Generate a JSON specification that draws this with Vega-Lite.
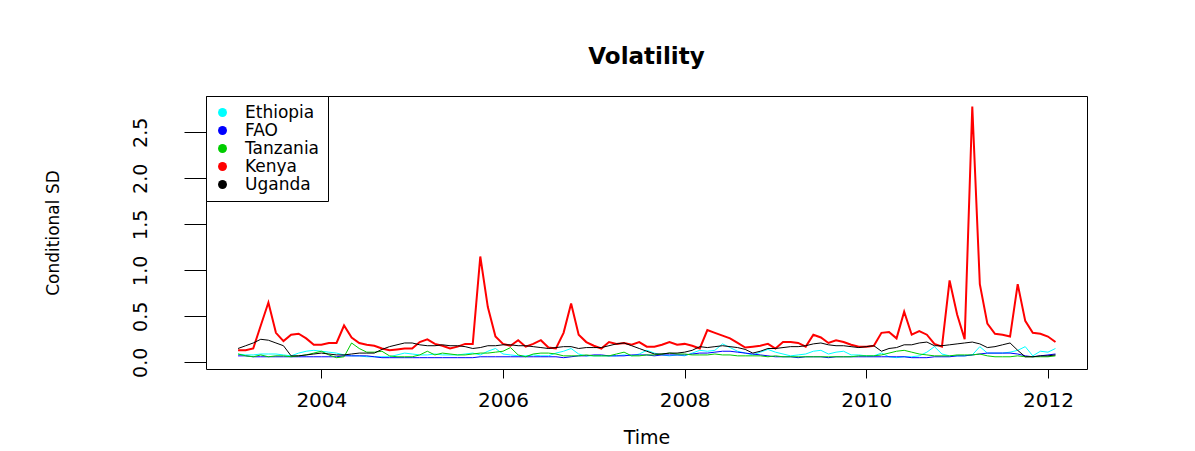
{
  "$schema": "https://vega.github.io/schema/vega-lite/v6.json",
  "autosize": {"type": "none"},
  "padding": {"left": 206, "top": 96, "right": 108, "bottom": 82},
  "width": 881,
  "height": 273,
  "background": "white",
  "title": {"text": "Volatility", "font": "DejaVu Sans", "fontSize": 23, "fontWeight": "bold", "color": "black", "offset": 27, "anchor": "middle"},
  "data": {"values": [
    {"t":2003.083,"Ethiopia":0.09,"FAO":0.07,"Tanzania":0.09,"Kenya":0.13,"Uganda":0.15},
    {"t":2003.167,"Ethiopia":0.08,"FAO":0.07,"Tanzania":0.07,"Kenya":0.13,"Uganda":0.18},
    {"t":2003.250,"Ethiopia":0.08,"FAO":0.06,"Tanzania":0.06,"Kenya":0.15,"Uganda":0.21},
    {"t":2003.333,"Ethiopia":0.09,"FAO":0.06,"Tanzania":0.08,"Kenya":0.40,"Uganda":0.25},
    {"t":2003.417,"Ethiopia":0.09,"FAO":0.06,"Tanzania":0.06,"Kenya":0.65,"Uganda":0.24},
    {"t":2003.500,"Ethiopia":0.09,"FAO":0.06,"Tanzania":0.07,"Kenya":0.32,"Uganda":0.21},
    {"t":2003.583,"Ethiopia":0.08,"FAO":0.06,"Tanzania":0.07,"Kenya":0.23,"Uganda":0.18},
    {"t":2003.667,"Ethiopia":0.07,"FAO":0.06,"Tanzania":0.06,"Kenya":0.30,"Uganda":0.07},
    {"t":2003.750,"Ethiopia":0.10,"FAO":0.06,"Tanzania":0.07,"Kenya":0.31,"Uganda":0.07},
    {"t":2003.833,"Ethiopia":0.12,"FAO":0.06,"Tanzania":0.08,"Kenya":0.26,"Uganda":0.08},
    {"t":2003.917,"Ethiopia":0.13,"FAO":0.06,"Tanzania":0.10,"Kenya":0.19,"Uganda":0.09},
    {"t":2004.000,"Ethiopia":0.12,"FAO":0.06,"Tanzania":0.12,"Kenya":0.19,"Uganda":0.10},
    {"t":2004.083,"Ethiopia":0.11,"FAO":0.06,"Tanzania":0.08,"Kenya":0.21,"Uganda":0.09},
    {"t":2004.167,"Ethiopia":0.10,"FAO":0.06,"Tanzania":0.05,"Kenya":0.21,"Uganda":0.08},
    {"t":2004.250,"Ethiopia":0.08,"FAO":0.07,"Tanzania":0.06,"Kenya":0.40,"Uganda":0.08},
    {"t":2004.333,"Ethiopia":0.07,"FAO":0.07,"Tanzania":0.21,"Kenya":0.27,"Uganda":0.09},
    {"t":2004.417,"Ethiopia":0.07,"FAO":0.07,"Tanzania":0.15,"Kenya":0.21,"Uganda":0.10},
    {"t":2004.500,"Ethiopia":0.06,"FAO":0.07,"Tanzania":0.11,"Kenya":0.19,"Uganda":0.10},
    {"t":2004.583,"Ethiopia":0.06,"FAO":0.06,"Tanzania":0.11,"Kenya":0.18,"Uganda":0.10},
    {"t":2004.667,"Ethiopia":0.06,"FAO":0.05,"Tanzania":0.12,"Kenya":0.15,"Uganda":0.14},
    {"t":2004.750,"Ethiopia":0.06,"FAO":0.05,"Tanzania":0.07,"Kenya":0.13,"Uganda":0.17},
    {"t":2004.833,"Ethiopia":0.08,"FAO":0.05,"Tanzania":0.06,"Kenya":0.14,"Uganda":0.19},
    {"t":2004.917,"Ethiopia":0.10,"FAO":0.05,"Tanzania":0.06,"Kenya":0.15,"Uganda":0.21},
    {"t":2005.000,"Ethiopia":0.09,"FAO":0.05,"Tanzania":0.06,"Kenya":0.15,"Uganda":0.21},
    {"t":2005.083,"Ethiopia":0.08,"FAO":0.05,"Tanzania":0.08,"Kenya":0.22,"Uganda":0.19},
    {"t":2005.167,"Ethiopia":0.08,"FAO":0.05,"Tanzania":0.12,"Kenya":0.25,"Uganda":0.18},
    {"t":2005.250,"Ethiopia":0.09,"FAO":0.05,"Tanzania":0.08,"Kenya":0.20,"Uganda":0.18},
    {"t":2005.333,"Ethiopia":0.08,"FAO":0.05,"Tanzania":0.10,"Kenya":0.18,"Uganda":0.19},
    {"t":2005.417,"Ethiopia":0.08,"FAO":0.05,"Tanzania":0.09,"Kenya":0.15,"Uganda":0.18},
    {"t":2005.500,"Ethiopia":0.08,"FAO":0.05,"Tanzania":0.08,"Kenya":0.17,"Uganda":0.18},
    {"t":2005.583,"Ethiopia":0.09,"FAO":0.05,"Tanzania":0.08,"Kenya":0.20,"Uganda":0.17},
    {"t":2005.667,"Ethiopia":0.10,"FAO":0.05,"Tanzania":0.09,"Kenya":0.20,"Uganda":0.15},
    {"t":2005.750,"Ethiopia":0.08,"FAO":0.06,"Tanzania":0.10,"Kenya":1.15,"Uganda":0.16},
    {"t":2005.833,"Ethiopia":0.12,"FAO":0.06,"Tanzania":0.10,"Kenya":0.60,"Uganda":0.18},
    {"t":2005.917,"Ethiopia":0.15,"FAO":0.06,"Tanzania":0.11,"Kenya":0.28,"Uganda":0.18},
    {"t":2006.000,"Ethiopia":0.09,"FAO":0.06,"Tanzania":0.12,"Kenya":0.20,"Uganda":0.19},
    {"t":2006.083,"Ethiopia":0.08,"FAO":0.06,"Tanzania":0.16,"Kenya":0.18,"Uganda":0.19},
    {"t":2006.167,"Ethiopia":0.07,"FAO":0.06,"Tanzania":0.08,"Kenya":0.24,"Uganda":0.18},
    {"t":2006.250,"Ethiopia":0.07,"FAO":0.06,"Tanzania":0.06,"Kenya":0.17,"Uganda":0.18},
    {"t":2006.333,"Ethiopia":0.08,"FAO":0.06,"Tanzania":0.09,"Kenya":0.20,"Uganda":0.17},
    {"t":2006.417,"Ethiopia":0.07,"FAO":0.06,"Tanzania":0.10,"Kenya":0.24,"Uganda":0.16},
    {"t":2006.500,"Ethiopia":0.07,"FAO":0.06,"Tanzania":0.10,"Kenya":0.16,"Uganda":0.15},
    {"t":2006.583,"Ethiopia":0.10,"FAO":0.06,"Tanzania":0.09,"Kenya":0.15,"Uganda":0.16},
    {"t":2006.667,"Ethiopia":0.12,"FAO":0.05,"Tanzania":0.07,"Kenya":0.32,"Uganda":0.17},
    {"t":2006.750,"Ethiopia":0.15,"FAO":0.06,"Tanzania":0.07,"Kenya":0.64,"Uganda":0.17},
    {"t":2006.833,"Ethiopia":0.09,"FAO":0.07,"Tanzania":0.07,"Kenya":0.30,"Uganda":0.15},
    {"t":2006.917,"Ethiopia":0.07,"FAO":0.07,"Tanzania":0.08,"Kenya":0.22,"Uganda":0.16},
    {"t":2007.000,"Ethiopia":0.07,"FAO":0.08,"Tanzania":0.07,"Kenya":0.18,"Uganda":0.16},
    {"t":2007.083,"Ethiopia":0.07,"FAO":0.08,"Tanzania":0.07,"Kenya":0.15,"Uganda":0.16},
    {"t":2007.167,"Ethiopia":0.07,"FAO":0.07,"Tanzania":0.07,"Kenya":0.22,"Uganda":0.18},
    {"t":2007.250,"Ethiopia":0.07,"FAO":0.07,"Tanzania":0.09,"Kenya":0.20,"Uganda":0.20},
    {"t":2007.333,"Ethiopia":0.08,"FAO":0.07,"Tanzania":0.11,"Kenya":0.21,"Uganda":0.21},
    {"t":2007.417,"Ethiopia":0.07,"FAO":0.08,"Tanzania":0.07,"Kenya":0.19,"Uganda":0.18},
    {"t":2007.500,"Ethiopia":0.09,"FAO":0.08,"Tanzania":0.07,"Kenya":0.22,"Uganda":0.15},
    {"t":2007.583,"Ethiopia":0.13,"FAO":0.08,"Tanzania":0.08,"Kenya":0.17,"Uganda":0.12},
    {"t":2007.667,"Ethiopia":0.10,"FAO":0.07,"Tanzania":0.08,"Kenya":0.17,"Uganda":0.09},
    {"t":2007.750,"Ethiopia":0.08,"FAO":0.08,"Tanzania":0.09,"Kenya":0.19,"Uganda":0.09},
    {"t":2007.833,"Ethiopia":0.07,"FAO":0.08,"Tanzania":0.10,"Kenya":0.22,"Uganda":0.10},
    {"t":2007.917,"Ethiopia":0.08,"FAO":0.08,"Tanzania":0.09,"Kenya":0.19,"Uganda":0.10},
    {"t":2008.000,"Ethiopia":0.07,"FAO":0.08,"Tanzania":0.09,"Kenya":0.20,"Uganda":0.11},
    {"t":2008.083,"Ethiopia":0.10,"FAO":0.09,"Tanzania":0.08,"Kenya":0.18,"Uganda":0.13},
    {"t":2008.167,"Ethiopia":0.13,"FAO":0.10,"Tanzania":0.08,"Kenya":0.15,"Uganda":0.17},
    {"t":2008.250,"Ethiopia":0.12,"FAO":0.10,"Tanzania":0.08,"Kenya":0.35,"Uganda":0.16},
    {"t":2008.333,"Ethiopia":0.13,"FAO":0.11,"Tanzania":0.09,"Kenya":0.32,"Uganda":0.17},
    {"t":2008.417,"Ethiopia":0.20,"FAO":0.12,"Tanzania":0.08,"Kenya":0.29,"Uganda":0.18},
    {"t":2008.500,"Ethiopia":0.16,"FAO":0.12,"Tanzania":0.08,"Kenya":0.26,"Uganda":0.17},
    {"t":2008.583,"Ethiopia":0.12,"FAO":0.11,"Tanzania":0.07,"Kenya":0.21,"Uganda":0.16},
    {"t":2008.667,"Ethiopia":0.10,"FAO":0.10,"Tanzania":0.07,"Kenya":0.16,"Uganda":0.14},
    {"t":2008.750,"Ethiopia":0.08,"FAO":0.09,"Tanzania":0.07,"Kenya":0.17,"Uganda":0.10},
    {"t":2008.833,"Ethiopia":0.11,"FAO":0.08,"Tanzania":0.07,"Kenya":0.18,"Uganda":0.12},
    {"t":2008.917,"Ethiopia":0.14,"FAO":0.07,"Tanzania":0.06,"Kenya":0.20,"Uganda":0.15},
    {"t":2009.000,"Ethiopia":0.11,"FAO":0.06,"Tanzania":0.07,"Kenya":0.15,"Uganda":0.15},
    {"t":2009.083,"Ethiopia":0.09,"FAO":0.06,"Tanzania":0.06,"Kenya":0.22,"Uganda":0.16},
    {"t":2009.167,"Ethiopia":0.07,"FAO":0.06,"Tanzania":0.06,"Kenya":0.22,"Uganda":0.17},
    {"t":2009.250,"Ethiopia":0.08,"FAO":0.05,"Tanzania":0.06,"Kenya":0.21,"Uganda":0.17},
    {"t":2009.333,"Ethiopia":0.09,"FAO":0.06,"Tanzania":0.06,"Kenya":0.17,"Uganda":0.18},
    {"t":2009.417,"Ethiopia":0.12,"FAO":0.06,"Tanzania":0.06,"Kenya":0.30,"Uganda":0.20},
    {"t":2009.500,"Ethiopia":0.13,"FAO":0.06,"Tanzania":0.06,"Kenya":0.27,"Uganda":0.21},
    {"t":2009.583,"Ethiopia":0.09,"FAO":0.05,"Tanzania":0.06,"Kenya":0.21,"Uganda":0.19},
    {"t":2009.667,"Ethiopia":0.11,"FAO":0.06,"Tanzania":0.06,"Kenya":0.24,"Uganda":0.18},
    {"t":2009.750,"Ethiopia":0.12,"FAO":0.06,"Tanzania":0.06,"Kenya":0.22,"Uganda":0.18},
    {"t":2009.833,"Ethiopia":0.08,"FAO":0.06,"Tanzania":0.06,"Kenya":0.19,"Uganda":0.17},
    {"t":2009.917,"Ethiopia":0.08,"FAO":0.06,"Tanzania":0.07,"Kenya":0.17,"Uganda":0.16},
    {"t":2010.000,"Ethiopia":0.07,"FAO":0.06,"Tanzania":0.07,"Kenya":0.17,"Uganda":0.17},
    {"t":2010.083,"Ethiopia":0.07,"FAO":0.06,"Tanzania":0.07,"Kenya":0.18,"Uganda":0.18},
    {"t":2010.167,"Ethiopia":0.10,"FAO":0.06,"Tanzania":0.08,"Kenya":0.32,"Uganda":0.12},
    {"t":2010.250,"Ethiopia":0.06,"FAO":0.06,"Tanzania":0.10,"Kenya":0.33,"Uganda":0.15},
    {"t":2010.333,"Ethiopia":0.05,"FAO":0.06,"Tanzania":0.12,"Kenya":0.26,"Uganda":0.16},
    {"t":2010.417,"Ethiopia":0.06,"FAO":0.06,"Tanzania":0.13,"Kenya":0.55,"Uganda":0.19},
    {"t":2010.500,"Ethiopia":0.06,"FAO":0.05,"Tanzania":0.11,"Kenya":0.30,"Uganda":0.19},
    {"t":2010.583,"Ethiopia":0.07,"FAO":0.05,"Tanzania":0.09,"Kenya":0.34,"Uganda":0.21},
    {"t":2010.667,"Ethiopia":0.11,"FAO":0.05,"Tanzania":0.08,"Kenya":0.30,"Uganda":0.22},
    {"t":2010.750,"Ethiopia":0.17,"FAO":0.06,"Tanzania":0.07,"Kenya":0.20,"Uganda":0.18},
    {"t":2010.833,"Ethiopia":0.09,"FAO":0.06,"Tanzania":0.07,"Kenya":0.17,"Uganda":0.18},
    {"t":2010.917,"Ethiopia":0.07,"FAO":0.06,"Tanzania":0.07,"Kenya":0.89,"Uganda":0.19},
    {"t":2011.000,"Ethiopia":0.07,"FAO":0.07,"Tanzania":0.08,"Kenya":0.52,"Uganda":0.20},
    {"t":2011.083,"Ethiopia":0.07,"FAO":0.07,"Tanzania":0.08,"Kenya":0.25,"Uganda":0.21},
    {"t":2011.167,"Ethiopia":0.08,"FAO":0.08,"Tanzania":0.08,"Kenya":2.78,"Uganda":0.22},
    {"t":2011.250,"Ethiopia":0.17,"FAO":0.09,"Tanzania":0.09,"Kenya":0.85,"Uganda":0.20},
    {"t":2011.333,"Ethiopia":0.10,"FAO":0.10,"Tanzania":0.07,"Kenya":0.42,"Uganda":0.16},
    {"t":2011.417,"Ethiopia":0.10,"FAO":0.10,"Tanzania":0.06,"Kenya":0.31,"Uganda":0.17},
    {"t":2011.500,"Ethiopia":0.10,"FAO":0.10,"Tanzania":0.06,"Kenya":0.30,"Uganda":0.19},
    {"t":2011.583,"Ethiopia":0.11,"FAO":0.10,"Tanzania":0.06,"Kenya":0.28,"Uganda":0.21},
    {"t":2011.667,"Ethiopia":0.13,"FAO":0.09,"Tanzania":0.07,"Kenya":0.85,"Uganda":0.13},
    {"t":2011.750,"Ethiopia":0.17,"FAO":0.07,"Tanzania":0.06,"Kenya":0.45,"Uganda":0.06},
    {"t":2011.833,"Ethiopia":0.07,"FAO":0.06,"Tanzania":0.06,"Kenya":0.32,"Uganda":0.06},
    {"t":2011.917,"Ethiopia":0.12,"FAO":0.07,"Tanzania":0.06,"Kenya":0.31,"Uganda":0.07},
    {"t":2012.000,"Ethiopia":0.11,"FAO":0.08,"Tanzania":0.06,"Kenya":0.28,"Uganda":0.07},
    {"t":2012.083,"Ethiopia":0.15,"FAO":0.09,"Tanzania":0.07,"Kenya":0.22,"Uganda":0.08}
  ]},
  "transform": [{"fold": ["Ethiopia", "FAO", "Tanzania", "Kenya", "Uganda"], "as": ["series", "sd"]}],
  "mark": {"type": "line"},
  "encoding": {
    "x": {
      "field": "t", "type": "quantitative",
      "scale": {"domain": [2002.73, 2012.43], "nice": false, "zero": false},
      "axis": {"title": "Time", "values": [2004, 2006, 2008, 2010, 2012], "format": "d", "tickSize": 9, "labelPadding": 12, "titlePadding": 18, "labelFontSize": 20, "titleFontSize": 19}
    },
    "y": {
      "field": "sd", "type": "quantitative",
      "scale": {"domain": [-0.073, 2.895], "nice": false, "zero": false},
      "axis": {"title": "Conditional SD", "values": [0, 0.5, 1, 1.5, 2, 2.5], "format": ".1f", "tickSize": 22, "labelAngle": -90, "labelPadding": 34, "titlePadding": 69, "labelFontSize": 19, "titleFontSize": 17}
    },
    "color": {
      "field": "series", "type": "nominal",
      "scale": {"domain": ["Ethiopia", "FAO", "Tanzania", "Kenya", "Uganda"], "range": ["#00FFFF", "#0000FF", "#00CD00", "#FF0000", "#000000"]},
      "legend": {
        "title": null, "orient": "top-left", "offset": 0, "padding": 8,
        "strokeColor": "black", "fillColor": "white",
        "symbolType": "circle", "symbolSize": 80, "symbolStrokeWidth": 0,
        "labelFont": "DejaVu Sans", "labelFontSize": 17, "labelColor": "black", "labelOffset": 14, "rowPadding": 0,
        "encode": {"symbols": {"update": {"fill": {"scale": "color", "field": "value"}, "stroke": {"value": "transparent"}}}}
      }
    },
    "strokeWidth": {"condition": {"test": "datum.series === 'Kenya'", "value": 2}, "value": 1}
  },
  "config": {
    "view": {"stroke": "black", "strokeWidth": 1},
    "axis": {"domain": false, "grid": false, "tickColor": "black", "tickWidth": 1, "labelColor": "black", "titleColor": "black", "labelFont": "DejaVu Sans", "titleFont": "DejaVu Sans", "titleFontWeight": "normal"}
  }
}
